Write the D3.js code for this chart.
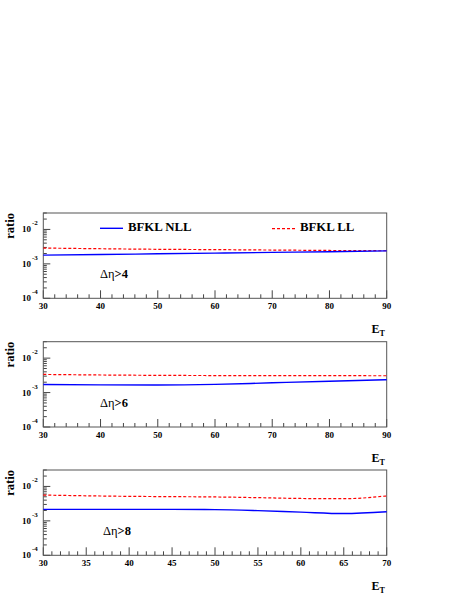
<!DOCTYPE html>
<html><head><meta charset="utf-8">
<script src="https://cdn.jsdelivr.net/npm/d3@7"></script>
<style>body{margin:0;background:#fff}svg{display:block}</style>
</head><body>
<svg id="c" width="463" height="599"></svg>
<script>
// ---- data ----
const etA = [30,40,50,60,70,80,90];
const nll4 = [1.80e-3,1.87e-3,1.96e-3,2.05e-3,2.15e-3,2.25e-3,2.38e-3];
const ll4  = [2.88e-3,2.75e-3,2.65e-3,2.59e-3,2.52e-3,2.45e-3,2.40e-3];
const nll6 = [1.72e-3,1.67e-3,1.66e-3,1.73e-3,1.92e-3,2.13e-3,2.36e-3];
const ll6  = [3.36e-3,3.24e-3,3.16e-3,3.12e-3,3.10e-3,3.09e-3,3.08e-3];
const etC = [30,35,40,45,50,55,60,65,70];
const nll8 = [2.15e-3,2.15e-3,2.15e-3,2.15e-3,2.12e-3,1.98e-3,1.79e-3,1.63e-3,1.84e-3];
const ll8  = [5.61e-3,5.35e-3,5.15e-3,5.05e-3,4.95e-3,4.72e-3,4.47e-3,4.40e-3,5.30e-3];
const labels = ["4","6","8"];
const xDomains = [[30,90],[30,90],[30,70]];
const xMajor = [10,10,5];
const xMinor = [2,2,1];
const yDomain = [1e-4, 3e-2];
const legendNames = ["BFKL NLL","BFKL LL"];

const panels = [
  {x: etA, nll: nll4, ll: ll4},
  {x: etA, nll: nll6, ll: ll6},
  {x: etC, nll: nll8, ll: ll8}
];
const tops = [213, 341.7, 470];
const H = 85.3, L = 43.3, R = 386.7;
const font = "'Liberation Serif','Times New Roman',serif";
const svg = d3.select("#c");

panels.forEach((p, i) => {
  const top = tops[i], bot = top + H;
  const x = d3.scaleLinear().domain(xDomains[i]).range([L, R]);
  const y = d3.scaleLog().domain(yDomain).range([bot, top]);
  const g = svg.append("g");

  // ticks x
  const [x0, x1] = xDomains[i];
  const minors = d3.range(x0, x1 + 1e-9, xMinor[i]);
  minors.forEach(v => {
    const major = Math.abs((v - x0) % xMajor[i]) < 1e-9;
    g.append("line").attr("x1", x(v)).attr("x2", x(v))
      .attr("y1", bot).attr("y2", bot - (major ? 8 : 4))
      .attr("stroke", "#444").attr("stroke-width", 1);
    if (major) {
      g.append("text").attr("x", x(v)).attr("y", bot + 11)
        .attr("text-anchor", "middle").attr("font-family", font)
        .attr("font-weight", "bold").attr("font-size", 9).text(v);
    }
  });
  // ticks y (log)
  for (let e = -4; e <= -2; e++) {
    for (let k = 1; k <= 9; k++) {
      const v = k * Math.pow(10, e);
      if (v < yDomain[0] - 1e-12 || v > yDomain[1] + 1e-12) continue;
      g.append("line").attr("x1", L).attr("x2", L + (k === 1 ? 7 : 3.5))
        .attr("y1", y(v)).attr("y2", y(v))
        .attr("stroke", "#444").attr("stroke-width", 1);
      if (k === 1) {
        g.append("text").attr("x", 31).attr("y", y(v) + 3)
          .attr("text-anchor", "end").attr("font-family", font)
          .attr("font-weight", "bold").attr("font-size", 9).text("10");
        g.append("text").attr("x", 32).attr("y", y(v) - 4)
          .attr("font-family", font).attr("font-weight", "bold")
          .attr("font-size", 7).text(String(e));
      }
    }
  }
  // frame
  g.append("rect").attr("x", L).attr("y", top).attr("width", R - L).attr("height", H)
    .attr("fill", "none").attr("stroke", "#555").attr("stroke-width", 1);

  const line = d3.line().x((d, j) => x(p.x[j])).y(d => y(d)).curve(d3.curveMonotoneX);
  g.append("path").attr("d", line(p.ll)).attr("fill", "none")
    .attr("stroke", "#ff0000").attr("stroke-width", 1.2).attr("stroke-dasharray", "3,2");
  g.append("path").attr("d", line(p.nll)).attr("fill", "none")
    .attr("stroke", "#0000ff").attr("stroke-width", 1.4);

  // axis titles
  g.append("text").attr("transform", `translate(14,${top}) rotate(-90)`)
    .attr("text-anchor", "end").attr("font-family", font).attr("font-weight", "bold")
    .attr("font-size", 12.5).text("ratio");
  const et = g.append("text").attr("x", 371.5).attr("y", bot + 35)
    .attr("font-family", font).attr("font-weight", "bold").attr("font-size", 12);
  et.append("tspan").text("E");
  et.append("tspan").attr("font-size", 8).attr("dy", 3).text("T");

  // Δη label
  const lt = g.append("text").attr("x", i === 2 ? 103 : 100).attr("y", bot - (i === 2 ? 20 : 20.5))
    .attr("font-family", font).attr("font-size", 12.5);
  lt.append("tspan").text("Δη");
  lt.append("tspan").attr("font-weight", "bold").text(">" + labels[i]);

  // legend in first panel
  if (i === 0) {
    g.append("line").attr("x1", 100).attr("x2", 123).attr("y1", 228.3).attr("y2", 228.3)
      .attr("stroke", "#0000ff").attr("stroke-width", 1.4);
    g.append("text").attr("x", 128).attr("y", 230.7).attr("font-family", font)
      .attr("font-weight", "bold").attr("font-size", 12.8).text(legendNames[0]);
    g.append("line").attr("x1", 272).attr("x2", 295).attr("y1", 228.7).attr("y2", 228.7)
      .attr("stroke", "#ff0000").attr("stroke-width", 1.2).attr("stroke-dasharray", "3,2");
    g.append("text").attr("x", 300).attr("y", 230.7).attr("font-family", font)
      .attr("font-weight", "bold").attr("font-size", 12.8).text(legendNames[1]);
  }
});
</script>
</body></html>
